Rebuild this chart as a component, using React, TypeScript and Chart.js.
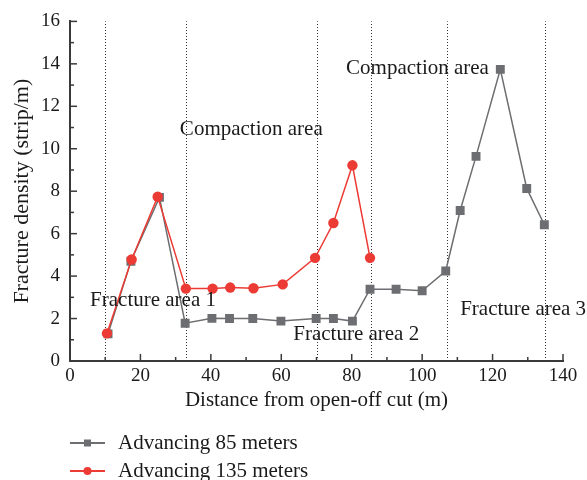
import { useEffect, useRef } from "react";
import { Chart, registerables } from "chart.js";

Chart.register(...registerables);

// ---- data ----
const advancing85X = [10.8, 17.3, 25.4, 32.7, 40.3, 45.3, 51.9, 59.9, 69.9, 74.8, 80.2, 85.2, 92.6, 100, 106.7, 110.8, 115.3, 122.2, 129.7, 134.7];
const advancing85Y = [1.28, 4.7, 7.71, 1.78, 2.01, 2.0, 2.0, 1.88, 2.0, 2.0, 1.88, 3.38, 3.38, 3.31, 4.24, 7.09, 9.64, 13.74, 8.13, 6.42];
const advancing135X = [10.5, 17.5, 24.9, 32.9, 40.5, 45.5, 52.1, 60.4, 69.6, 74.8, 80.2, 85.2];
const advancing135Y = [1.3, 4.78, 7.74, 3.41, 3.41, 3.46, 3.43, 3.61, 4.86, 6.5, 9.22, 4.86];
const seriesNames = ["Advancing 85 meters", "Advancing 135 meters"];
const boundaryX = [10, 33, 70, 85.5, 107, 135];
const annotationTexts = ["Compaction area", "Compaction area", "Fracture area 1", "Fracture area 2", "Fracture area 3"];
const annotationX = [31.2, 78.4, 5.7, 63.4, 110.8];
const annotationY = [10.9, 13.76, 2.85, 1.26, 2.43];
const xTitle = "Distance from open-off cut (m)";
const yTitle = "Fracture density (strip/m)";
const xMin = 0, xMax = 140, xStep = 20, xMinorStep = 10;
const yMin = 0, yMax = 16, yStep = 2, yMinorStep = 1;

const GREY = "#6d6e71";
const RED = "#ec3b34";
const AXIS = "#3a3a3a";
const FONT = "'Liberation Serif', serif";

const decor = {
  id: "decor",
  beforeDatasetsDraw(chart: any) {
    const { ctx, scales } = chart;
    const x = scales.x, y = scales.y;
    ctx.save();
    // dotted boundaries
    ctx.strokeStyle = "#333";
    ctx.lineWidth = 1;
    ctx.setLineDash([1, 2]);
    boundaryX.forEach((v) => {
      const px = Math.round(x.getPixelForValue(v)) + 0.5;
      ctx.beginPath();
      ctx.moveTo(px, y.getPixelForValue(yMin));
      ctx.lineTo(px, y.getPixelForValue(yMax));
      ctx.stroke();
    });
    ctx.setLineDash([]);
    // inward ticks
    ctx.strokeStyle = AXIS;
    ctx.lineWidth = 1.5;
    const left = x.getPixelForValue(xMin);
    const bottom = y.getPixelForValue(yMin);
    for (let v = yMin; v <= yMax; v += yMinorStep) {
      const py = y.getPixelForValue(v);
      const len = v % yStep === 0 ? 7 : 4;
      ctx.beginPath();
      ctx.moveTo(left, py);
      ctx.lineTo(left + len, py);
      ctx.stroke();
    }
    for (let v = xMin; v <= xMax; v += xMinorStep) {
      const px = x.getPixelForValue(v);
      const len = v % xStep === 0 ? 7 : 4;
      ctx.beginPath();
      ctx.moveTo(px, bottom);
      ctx.lineTo(px, bottom - len);
      ctx.stroke();
    }
    ctx.restore();
  },
  afterDraw(chart: any) {
    const { ctx, scales, chartArea } = chart;
    const x = scales.x, y = scales.y;
    ctx.save();
    ctx.fillStyle = "#1a1a1a";
    ctx.textBaseline = "middle";
    ctx.textAlign = "left";
    ctx.font = `21px ${FONT}`;
    annotationTexts.forEach((t, i) => {
      ctx.fillText(t, x.getPixelForValue(annotationX[i]), y.getPixelForValue(annotationY[i]));
    });
    // axis titles
    ctx.textAlign = "center";
    ctx.font = `21px ${FONT}`;
    ctx.fillText(xTitle, (chartArea.left + chartArea.right) / 2, chartArea.bottom + 39);
    ctx.save();
    ctx.translate(22, (chartArea.top + chartArea.bottom) / 2);
    ctx.rotate(-Math.PI / 2);
    ctx.font = `22px ${FONT}`;
    ctx.fillText(yTitle, 0, 0);
    ctx.restore();
    // legend
    const colors = [GREY, RED];
    const rows = [chartArea.bottom + 82, chartArea.bottom + 110];
    ctx.textAlign = "left";
    ctx.font = `21px ${FONT}`;
    seriesNames.forEach((name, i) => {
      const ly = rows[i];
      ctx.strokeStyle = colors[i];
      ctx.lineWidth = 2;
      ctx.beginPath();
      ctx.moveTo(70, ly);
      ctx.lineTo(105, ly);
      ctx.stroke();
      ctx.fillStyle = colors[i];
      if (i === 0) {
        ctx.fillRect(84, ly - 3.5, 7, 7);
      } else {
        ctx.beginPath();
        ctx.arc(87.5, ly, 4, 0, Math.PI * 2);
        ctx.fill();
      }
      ctx.fillStyle = "#1a1a1a";
      ctx.fillText(name, 118, ly);
    });
    ctx.restore();
  },
};

export default function App() {
  const ref = useRef<HTMLCanvasElement | null>(null);
  useEffect(() => {
    if (!ref.current) return;
    const data85 = advancing85X.map((v, i) => ({ x: v, y: advancing85Y[i] }));
    const data135 = advancing135X.map((v, i) => ({ x: v, y: advancing135Y[i] }));
    const chart = new Chart(ref.current, {
      type: "line",
      data: {
        datasets: [
          {
            label: seriesNames[0],
            data: data85,
            borderColor: GREY,
            backgroundColor: GREY,
            borderWidth: 1.5,
            pointStyle: "rect",
            pointRadius: 6.3,
            pointBorderWidth: 0,
            order: 2,
          },
          {
            label: seriesNames[1],
            data: data135,
            borderColor: RED,
            backgroundColor: RED,
            borderWidth: 1.5,
            pointStyle: "circle",
            pointRadius: 5.2,
            pointBorderWidth: 0,
            order: 1,
          },
        ],
      },
      options: {
        responsive: false,
        animation: false,
        layout: { padding: { left: 0, right: 24, top: 18, bottom: 0 } },
        plugins: { legend: { display: false }, tooltip: { enabled: false } },
        scales: {
          x: {
            type: "linear",
            min: xMin,
            max: xMax,
            grid: { display: false, drawTicks: false },
            border: { display: true, width: 2, color: AXIS },
            ticks: { stepSize: xStep, padding: 4, color: "#1a1a1a", font: { family: FONT, size: 19 } },
            afterFit: (s: any) => { s.height = 119; },
          },
          y: {
            type: "linear",
            min: yMin,
            max: yMax,
            grid: { display: false, drawTicks: false },
            border: { display: true, width: 2, color: AXIS },
            ticks: { stepSize: yStep, padding: 10, color: "#1a1a1a", font: { family: FONT, size: 19 } },
            afterFit: (s: any) => { s.width = 70; },
          },
        },
      },
      plugins: [decor],
    });
    return () => chart.destroy();
  }, []);
  return (
    <div style={{ position: "fixed", left: 0, top: 0, width: 587, height: 480, background: "#fff" }}>
      <canvas ref={ref} width={587} height={480} style={{ width: 587, height: 480, display: "block" }} />
    </div>
  );
}
